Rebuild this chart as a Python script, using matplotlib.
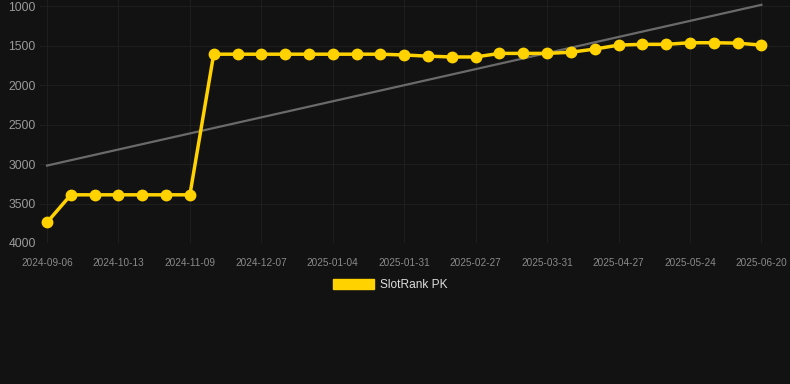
import matplotlib.pyplot as plt
from matplotlib.patches import Patch

# rank history (lower is better, axis inverted)
ranks = [3740, 3390, 3390, 3390, 3390, 3390, 3390, 1610, 1610, 1610,
         1610, 1610, 1610, 1610, 1610, 1620, 1635, 1645, 1645, 1600,
         1600, 1600, 1585, 1545, 1495, 1485, 1485, 1465, 1465, 1470,
         1495]
tick_labels = ["2024-09-06", "2024-10-13", "2024-11-09", "2024-12-07",
               "2025-01-04", "2025-01-31", "2025-02-27", "2025-03-31",
               "2025-04-27", "2025-05-24", "2025-06-20"]
trend_start = 3020
trend_end = 985
series_name = "SlotRank PK"

BG = "#121212"
GOLD = "#FFD200"

plt.rcParams['font.family'] = ['Liberation Sans', 'DejaVu Sans']

fig = plt.figure(figsize=(7.9, 3.84), dpi=100, facecolor=BG)
ax = fig.add_axes([40 / 790, 1 - 243 / 384, 750 / 790, 243 / 384])
ax.set_facecolor(BG)

x = list(range(len(ranks)))
ax.plot([0, len(ranks) - 1], [trend_start, trend_end], color="#6a6a6a", lw=1.6, zorder=2)
ax.plot(x, ranks, color=GOLD, lw=2.5, marker="o", ms=7.5, zorder=3)

ax.set_xlim(-0.294, 31.2)
ax.set_ylim(4000, 924)
ax.set_yticks([1000, 1500, 2000, 2500, 3000, 3500, 4000])
ax.set_xticks(x[::3])
ax.set_xticklabels(tick_labels)

ax.grid(True, color="#1e1e1e", lw=0.8)
ax.set_axisbelow(True)
for s in ax.spines.values():
    s.set_visible(False)
ax.tick_params(axis="x", length=0, pad=11, labelsize=7.2, labelcolor="#8a8a8a")
ax.tick_params(axis="y", length=0, pad=3, labelsize=8.7, labelcolor="#9a9a9a")
for lbl in ax.get_yticklabels():
    lbl.set_horizontalalignment("right")

fig.legend(handles=[Patch(color=GOLD, label=series_name)], loc="center",
           bbox_to_anchor=(390 / 790, 1 - 285 / 384), frameon=False,
           fontsize=8.6, labelcolor="#dddddd", handlelength=3.4,
           handleheight=1.0, handletextpad=0.5)

fig.savefig("out.png", dpi=100, facecolor=BG)
